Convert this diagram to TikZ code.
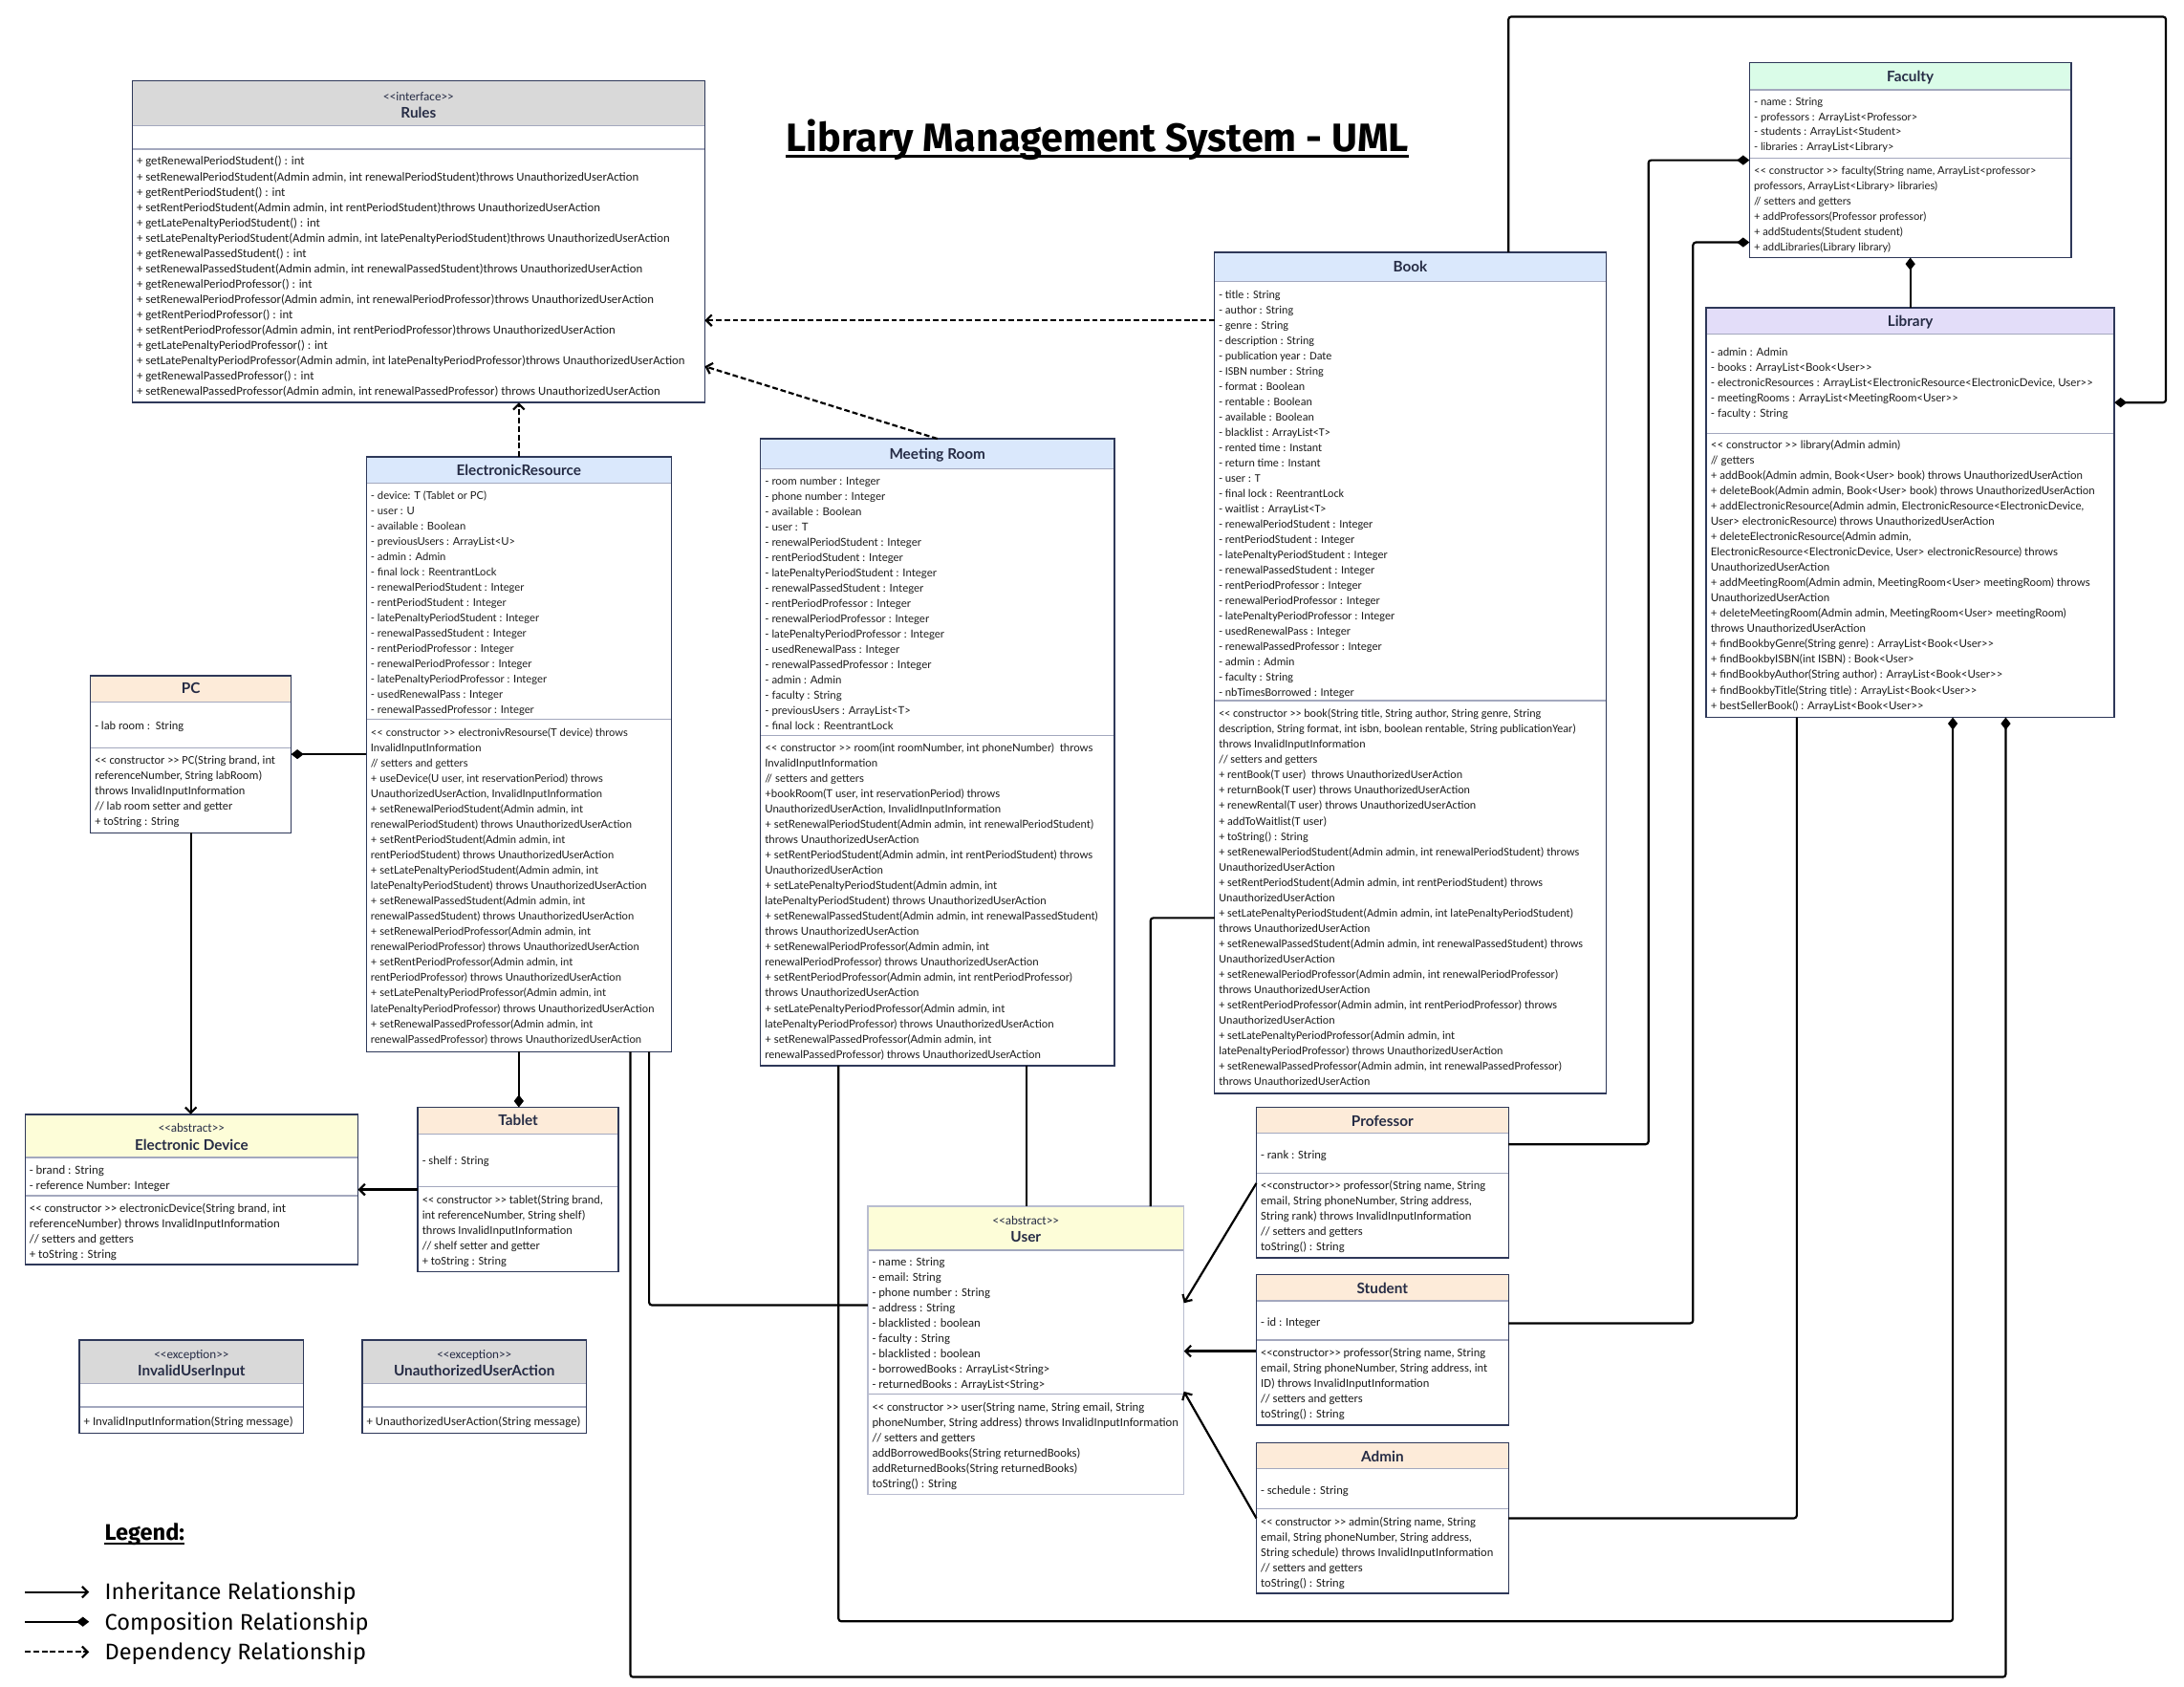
\documentclass[tikz,border=0pt]{standalone}
\usepackage{fontspec}
\usetikzlibrary{arrows.meta,calc}
\newfontfamily\carl{Carlito}
\newfontfamily\latof{Lato}
\newfontfamily\firaf{Fira Sans}
\newcommand{\dlt}{<\kern0pt<}
\newcommand{\dgt}{>\kern0pt>}
\newcommand{\fc}[1]{\carl\fontsize{#1}{11}\selectfont}
\newcommand{\fl}[1]{\latof\fontsize{#1}{11}\selectfont}
\newcommand{\fhead}{\latof\bfseries\fontsize{10.5}{12}\selectfont}
\newcommand{\fster}{\carl\fontsize{9}{11}\selectfont}
\definecolor{framec}{HTML}{2E3859}
\definecolor{divc}{HTML}{A3A8BE}
\definecolor{txtc}{HTML}{1C1C1C}
\definecolor{hdrc}{HTML}{262C45}
\definecolor{hgray}{HTML}{D9D9D9}
\definecolor{hblue}{HTML}{DAE8FC}
\definecolor{hgreen}{HTML}{DAFCE8}
\definecolor{hviolet}{HTML}{E3DDF9}
\definecolor{hpeach}{HTML}{FDEBD9}
\definecolor{hyellow}{HTML}{FDFDD8}
\definecolor{userframe}{HTML}{B9BDD0}
\tikzset{
  boxbase/.style={anchor=north west, inner sep=0pt, outer sep=0pt, fill=white, draw=none},
  divline/.style={draw=divc, line width=0.9pt},
  rowtext/.style={anchor=north west, inner sep=0pt, text=txtc},
  hdrtext/.style={inner sep=0pt, text=hdrc, text height=0.7em, text depth=0pt},
  conn/.style={draw=black, line width=1.5pt, rounded corners=2pt},
  inh/.style={conn, -{Straight Barb[length=4pt,width=8pt]}},
  comp/.style={conn, -{Diamond[length=9pt,width=7pt]}},
  dep/.style={conn, dash pattern=on 4pt off 2pt, -{Straight Barb[length=4pt,width=8pt]}},
}
% name, x, y, w, h, header height, header fill
\newcommand{\umlbox}[7]{%
  \node[boxbase, minimum width=#4pt, minimum height=#5pt] (#1) at (#2pt,-#3pt) {};
  \fill[#7] (#1.north west) rectangle ($(#1.north east)+(0pt,-#6pt)$);
  \draw[divline] ($(#1.north west)+(0pt,-#6pt)$) -- ($(#1.north east)+(0pt,-#6pt)$);
}
\newcommand{\umldiv}[2]{\draw[divline] ($(#1.north west)+(0pt,-#2pt)$) -- ($(#1.north east)+(0pt,-#2pt)$);}
\newcommand{\umlframe}[2][framec]{\draw[line width=1pt, draw=#1] (#2.north west) rectangle (#2.south east);}
% box, suffix, offset, font, rows
\newcommand{\umlrows}[5]{\node[rowtext, font=#4] (#1-#2) at ($(#1.north west)+(3pt,-#3pt)$) {\begin{tabular}{@{}l@{}}#5\end{tabular}};}
\newcommand{\umlhead}[5]{\node[hdrtext, font=#4] (#1-#2) at ($(#1.north)+(0pt,-#3pt)$) {#5};}
\begin{document}
\begin{tikzpicture}[x=1pt,y=1pt]
\fill[white] (0,0) rectangle (1568,-1211);
\useasboundingbox (0,0) rectangle (1568,-1211);

% Title
\node[anchor=base, inner sep=0pt, font=\firaf\bfseries\fontsize{28.4}{30}\selectfont] (title) at (788,-108.6) {Library Management System - UML};
\draw[line width=2pt] ($(title.base west)+(0,-3.5)$) -- ($(title.base east)+(0,-3.5)$);

% Rules
\umlbox{rules}{95}{58}{411}{231}{32}{hgray}
\umldiv{rules}{49}
\umlhead{rules}{st}{10.6}{\fster}{\dlt interface\dgt}
\umlhead{rules}{nm}{23.2}{\fhead}{Rules}
\umlrows{rules}{m}{52.8}{\fc{8.75}}{+ getRenewalPeriodStudent() : int\\
+ setRenewalPeriodStudent(Admin admin, int renewalPeriodStudent)throws UnauthorizedUserAction\\
+ getRentPeriodStudent() : int\\
+ setRentPeriodStudent(Admin admin, int rentPeriodStudent)throws UnauthorizedUserAction\\
+ getLatePenaltyPeriodStudent() : int\\
+ setLatePenaltyPeriodStudent(Admin admin, int latePenaltyPeriodStudent)throws UnauthorizedUserAction\\
+ getRenewalPassedStudent() : int\\
+ setRenewalPassedStudent(Admin admin, int renewalPassedStudent)throws UnauthorizedUserAction\\
+ getRenewalPeriodProfessor() : int\\
+ setRenewalPeriodProfessor(Admin admin, int renewalPeriodProfessor)throws UnauthorizedUserAction\\
+ getRentPeriodProfessor() : int\\
+ setRentPeriodProfessor(Admin admin, int rentPeriodProfessor)throws UnauthorizedUserAction\\
+ getLatePenaltyPeriodProfessor() : int\\
+ setLatePenaltyPeriodProfessor(Admin admin, int latePenaltyPeriodProfessor)throws UnauthorizedUserAction\\
+ getRenewalPassedProfessor() : int\\
+ setRenewalPassedProfessor(Admin admin, int renewalPassedProfessor) throws UnauthorizedUserAction}
\umlframe{rules}

% ElectronicResource
\umlbox{er}{263}{328}{219}{427}{19}{hblue}
\umldiv{er}{188.5}
\umlhead{er}{nm}{10}{\fhead}{ElectronicResource}
\umlrows{er}{a}{22.3}{\fl{7.7}}{- device: T (Tablet or PC)\\
- user : U\\
- available : Boolean\\
- previousUsers : ArrayList<U>\\
- admin : Admin\\
- final lock : ReentrantLock\\
- renewalPeriodStudent : Integer\\
- rentPeriodStudent : Integer\\
- latePenaltyPeriodStudent : Integer\\
- renewalPassedStudent : Integer\\
- rentPeriodProfessor : Integer\\
- renewalPeriodProfessor : Integer\\
- latePenaltyPeriodProfessor : Integer\\
- usedRenewalPass : Integer\\
- renewalPassedProfessor : Integer}
\umlrows{er}{m}{192.8}{\fl{7.7}}{\dlt{} constructor \dgt{} electronivResourse(T device) throws\\
InvalidInputInformation\\
// setters and getters\\
+ useDevice(U user, int reservationPeriod) throws\\
UnauthorizedUserAction, InvalidInputInformation\\
+ setRenewalPeriodStudent(Admin admin, int\\
renewalPeriodStudent) throws UnauthorizedUserAction\\
+ setRentPeriodStudent(Admin admin, int\\
rentPeriodStudent) throws UnauthorizedUserAction\\
+ setLatePenaltyPeriodStudent(Admin admin, int\\
latePenaltyPeriodStudent) throws UnauthorizedUserAction\\
+ setRenewalPassedStudent(Admin admin, int\\
renewalPassedStudent) throws UnauthorizedUserAction\\
+ setRenewalPeriodProfessor(Admin admin, int\\
renewalPeriodProfessor) throws UnauthorizedUserAction\\
+ setRentPeriodProfessor(Admin admin, int\\
rentPeriodProfessor) throws UnauthorizedUserAction\\
+ setLatePenaltyPeriodProfessor(Admin admin, int\\
latePenaltyPeriodProfessor) throws UnauthorizedUserAction\\
+ setRenewalPassedProfessor(Admin admin, int\\
renewalPassedProfessor) throws UnauthorizedUserAction}
\umlframe{er}

% Meeting Room
\umlbox{meet}{546}{315}{254}{450}{21.5}{hblue}
\umldiv{meet}{213}
\umlhead{meet}{nm}{11}{\fhead}{Meeting Room}
\umlrows{meet}{a}{25.3}{\fl{7.85}}{- room number : Integer\\
- phone number : Integer\\
- available : Boolean\\
- user : T\\
- renewalPeriodStudent : Integer\\
- rentPeriodStudent : Integer\\
- latePenaltyPeriodStudent : Integer\\
- renewalPassedStudent : Integer\\
- rentPeriodProfessor : Integer\\
- renewalPeriodProfessor : Integer\\
- latePenaltyPeriodProfessor : Integer\\
- usedRenewalPass : Integer\\
- renewalPassedProfessor : Integer\\
- admin : Admin\\
- faculty : String\\
- previousUsers : ArrayList<T>\\
- final lock : ReentrantLock}
\umlrows{meet}{m}{216.8}{\fl{7.85}}{\dlt{} constructor \dgt{} room(int roomNumber, int phoneNumber)\ \ throws\\
InvalidInputInformation\\
// setters and getters\\
+bookRoom(T user, int reservationPeriod) throws\\
UnauthorizedUserAction, InvalidInputInformation\\
+ setRenewalPeriodStudent(Admin admin, int renewalPeriodStudent)\\
throws UnauthorizedUserAction\\
+ setRentPeriodStudent(Admin admin, int rentPeriodStudent) throws\\
UnauthorizedUserAction\\
+ setLatePenaltyPeriodStudent(Admin admin, int\\
latePenaltyPeriodStudent) throws UnauthorizedUserAction\\
+ setRenewalPassedStudent(Admin admin, int renewalPassedStudent)\\
throws UnauthorizedUserAction\\
+ setRenewalPeriodProfessor(Admin admin, int\\
renewalPeriodProfessor) throws UnauthorizedUserAction\\
+ setRentPeriodProfessor(Admin admin, int rentPeriodProfessor)\\
throws UnauthorizedUserAction\\
+ setLatePenaltyPeriodProfessor(Admin admin, int\\
latePenaltyPeriodProfessor) throws UnauthorizedUserAction\\
+ setRenewalPassedProfessor(Admin admin, int\\
renewalPassedProfessor) throws UnauthorizedUserAction}
\umlframe{meet}

% Book
\umlbox{book}{872}{181}{281}{604}{21}{hblue}
\umldiv{book}{322}
\umlhead{book}{nm}{11}{\fhead}{Book}
\umlrows{book}{a}{25.3}{\fc{8.3}}{- title : String\\
- author : String\\
- genre : String\\
- description : String\\
- publication year : Date\\
- ISBN number : String\\
- format : Boolean\\
- rentable : Boolean\\
- available : Boolean\\
- blacklist : ArrayList<T>\\
- rented time : Instant\\
- return time : Instant\\
- user : T\\
- final lock : ReentrantLock\\
- waitlist : ArrayList<T>\\
- renewalPeriodStudent : Integer\\
- rentPeriodStudent : Integer\\
- latePenaltyPeriodStudent : Integer\\
- renewalPassedStudent : Integer\\
- rentPeriodProfessor : Integer\\
- renewalPeriodProfessor : Integer\\
- latePenaltyPeriodProfessor : Integer\\
- usedRenewalPass : Integer\\
- renewalPassedProfessor : Integer\\
- admin : Admin\\
- faculty : String\\
- nbTimesBorrowed : Integer}
\umlrows{book}{m}{326.3}{\fc{8.3}}{\dlt{} constructor \dgt{} book(String title, String author, String genre, String\\
description, String format, int isbn, boolean rentable, String publicationYear)\\
throws InvalidInputInformation\\
// setters and getters\\
+ rentBook(T user)\ \ throws UnauthorizedUserAction\\
+ returnBook(T user) throws UnauthorizedUserAction\\
+ renewRental(T user) throws UnauthorizedUserAction\\
+ addToWaitlist(T user)\\
+ toString() : String\\
+ setRenewalPeriodStudent(Admin admin, int renewalPeriodStudent) throws\\
UnauthorizedUserAction\\
+ setRentPeriodStudent(Admin admin, int rentPeriodStudent) throws\\
UnauthorizedUserAction\\
+ setLatePenaltyPeriodStudent(Admin admin, int latePenaltyPeriodStudent)\\
throws UnauthorizedUserAction\\
+ setRenewalPassedStudent(Admin admin, int renewalPassedStudent) throws\\
UnauthorizedUserAction\\
+ setRenewalPeriodProfessor(Admin admin, int renewalPeriodProfessor)\\
throws UnauthorizedUserAction\\
+ setRentPeriodProfessor(Admin admin, int rentPeriodProfessor) throws\\
UnauthorizedUserAction\\
+ setLatePenaltyPeriodProfessor(Admin admin, int\\
latePenaltyPeriodProfessor) throws UnauthorizedUserAction\\
+ setRenewalPassedProfessor(Admin admin, int renewalPassedProfessor)\\
throws UnauthorizedUserAction}
\umlframe{book}

% Faculty
\umlbox{faculty}{1256}{45}{231}{140}{19.5}{hgreen}
\umldiv{faculty}{68.5}
\umlhead{faculty}{nm}{10}{\fhead}{Faculty}
\umlrows{faculty}{a}{23.3}{\latof\fontsize{7.7}{10.7}\selectfont}{- name : String\\
- professors : ArrayList<Professor>\\
- students : ArrayList<Student>\\
- libraries : ArrayList<Library>}
\umlrows{faculty}{m}{72.3}{\fl{7.7}}{\dlt{} constructor \dgt{} faculty(String name, ArrayList<professor>\\
professors, ArrayList<Library> libraries)\\
// setters and getters\\
+ addProfessors(Professor professor)\\
+ addStudents(Student student)\\
+ addLibraries(Library library)}
\umlframe{faculty}

% Library
\umlbox{library}{1225}{221}{293}{294}{19}{hviolet}
\umldiv{library}{90}
\umlhead{library}{nm}{10}{\fhead}{Library}
\umlrows{library}{a}{26.8}{\fl{7.9}}{- admin : Admin\\
- books : ArrayList<Book<User\dgt\\
- electronicResources : ArrayList<ElectronicResource<ElectronicDevice, User\dgt\\
- meetingRooms : ArrayList<MeetingRoom<User\dgt\\
- faculty : String}
\umlrows{library}{m}{93.3}{\fl{7.9}}{\dlt{} constructor \dgt{} library(Admin admin)\\
// getters\\
+ addBook(Admin admin, Book<User> book) throws UnauthorizedUserAction\\
+ deleteBook(Admin admin, Book<User> book) throws UnauthorizedUserAction\\
+ addElectronicResource(Admin admin, ElectronicResource<ElectronicDevice,\\
User> electronicResource) throws UnauthorizedUserAction\\
+ deleteElectronicResource(Admin admin,\\
ElectronicResource<ElectronicDevice, User> electronicResource) throws\\
UnauthorizedUserAction\\
+ addMeetingRoom(Admin admin, MeetingRoom<User> meetingRoom) throws\\
UnauthorizedUserAction\\
+ deleteMeetingRoom(Admin admin, MeetingRoom<User> meetingRoom)\\
throws UnauthorizedUserAction\\
+ findBookbyGenre(String genre) : ArrayList<Book<User\dgt\\
+ findBookbyISBN(int ISBN) : Book<User>\\
+ findBookbyAuthor(String author) : ArrayList<Book<User\dgt\\
+ findBookbyTitle(String title) : ArrayList<Book<User\dgt\\
+ bestSellerBook() : ArrayList<Book<User\dgt}
\umlframe{library}

% PC
\umlbox{pc}{65}{485}{144}{113}{19}{hpeach}
\umldiv{pc}{52}
\umlhead{pc}{nm}{9.5}{\fhead}{PC}
\umlrows{pc}{a}{31.3}{\fc{8.5}}{- lab room :\ \ String}
\umlrows{pc}{m}{55.8}{\fc{8.5}}{\dlt{} constructor \dgt{} PC(String brand, int\\
referenceNumber, String labRoom)\\
throws InvalidInputInformation\\
// lab room setter and getter\\
+ toString : String}
\umlframe{pc}

% Electronic Device
\umlbox{edev}{18}{800}{239}{108}{31}{hyellow}
\umldiv{edev}{58.5}
\umlhead{edev}{st}{9.5}{\fster}{\dlt abstract\dgt}
\umlhead{edev}{nm}{22}{\fhead}{Electronic Device}
\umlrows{edev}{a}{35.3}{\fc{8.8}}{- brand : String\\
- reference Number: Integer}
\umlrows{edev}{m}{62.8}{\fc{8.8}}{\dlt{} constructor \dgt{} electronicDevice(String brand, int\\
referenceNumber) throws InvalidInputInformation\\
// setters and getters\\
+ toString : String}
\umlframe{edev}

% Tablet
\umlbox{tablet}{300}{795}{144}{118}{19}{hpeach}
\umldiv{tablet}{57}
\umlhead{tablet}{nm}{9.5}{\fhead}{Tablet}
\umlrows{tablet}{a}{33.3}{\fc{8.5}}{- shelf : String}
\umlrows{tablet}{m}{61.3}{\fc{8.5}}{\dlt{} constructor \dgt{} tablet(String brand,\\
int referenceNumber, String shelf)\\
throws InvalidInputInformation\\
// shelf setter and getter\\
+ toString : String}
\umlframe{tablet}

% User
\umlbox{user}{623}{866}{227}{207}{31.5}{hyellow}
\umldiv{user}{135}
\umlhead{user}{st}{10}{\fster}{\dlt abstract\dgt}
\umlhead{user}{nm}{22}{\fhead}{User}
\umlrows{user}{a}{34.8}{\fc{8.7}}{- name : String\\
- email: String\\
- phone number : String\\
- address : String\\
- blacklisted : boolean\\
- faculty : String\\
- blacklisted : boolean\\
- borrowedBooks : ArrayList<String>\\
- returnedBooks : ArrayList<String>}
\umlrows{user}{m}{139.3}{\fc{8.7}}{\dlt{} constructor \dgt{} user(String name, String email, String\\
phoneNumber, String address) throws InvalidInputInformation\\
// setters and getters\\
addBorrowedBooks(String returnedBooks)\\
addReturnedBooks(String returnedBooks)\\
toString() : String}
\umlframe[userframe]{user}

% Professor
\umlbox{prof}{902}{795}{181}{108}{18.5}{hpeach}
\umldiv{prof}{47.5}
\umlhead{prof}{nm}{10}{\fhead}{Professor}
\umlrows{prof}{a}{28.8}{\fc{8.6}}{- rank : String}
\umlrows{prof}{m}{51.3}{\fc{8.6}}{\dlt constructor\dgt{} professor(String name, String\\
email, String phoneNumber, String address,\\
String rank) throws InvalidInputInformation\\
// setters and getters\\
toString() : String}
\umlframe{prof}

% Student
\umlbox{student}{902}{915}{181}{108}{19}{hpeach}
\umldiv{student}{47}
\umlhead{student}{nm}{10}{\fhead}{Student}
\umlrows{student}{a}{29.3}{\fc{8.6}}{- id : Integer}
\umlrows{student}{m}{51.3}{\fc{8.6}}{\dlt constructor\dgt{} professor(String name, String\\
email, String phoneNumber, String address, int\\
ID) throws InvalidInputInformation\\
// setters and getters\\
toString() : String}
\umlframe{student}

% Admin
\umlbox{admin}{902}{1036}{181}{108}{18.5}{hpeach}
\umldiv{admin}{47}
\umlhead{admin}{nm}{10}{\fhead}{Admin}
\umlrows{admin}{a}{28.8}{\fc{8.6}}{- schedule : String}
\umlrows{admin}{m}{51.3}{\fc{8.6}}{\dlt{} constructor \dgt{} admin(String name, String\\
email, String phoneNumber, String address,\\
String schedule) throws InvalidInputInformation\\
// setters and getters\\
toString() : String}
\umlframe{admin}

% Exceptions
\umlbox{exinv}{57}{962}{161}{67}{31.5}{hgray}
\umldiv{exinv}{48}
\umlhead{exinv}{st}{10}{\fster}{\dlt exception\dgt}
\umlhead{exinv}{nm}{22.5}{\fhead}{InvalidUserInput}
\umlrows{exinv}{m}{53.8}{\fc{8.8}}{+ InvalidInputInformation(String message)}
\umlframe{exinv}

\umlbox{exuna}{260}{962}{161}{67}{31.5}{hgray}
\umldiv{exuna}{48}
\umlhead{exuna}{st}{10}{\fster}{\dlt exception\dgt}
\umlhead{exuna}{nm}{22.5}{\fhead}{UnauthorizedUserAction}
\umlrows{exuna}{m}{53.8}{\fc{8.8}}{+ UnauthorizedUserAction(String message)}
\umlframe{exuna}

% Connectors
\draw[dep] ($(book.north west)+(0,-49)$) -- ($(rules.north east)+(0,-172)$);
\draw[dep] (meet.north) -- ($(rules.north east)+(0,-205)$);
\draw[dep] (er.north) -- (er.north |- rules.south);
\draw[comp] ($(er.north west)+(0,-213.5)$) -- ($(pc.north east)+(0,-56.5)$);
\draw[inh] (pc.south) -- (pc.south |- edev.north);
\draw[comp] (er.south) -- (er.south |- tablet.north);
\draw[inh] ($(tablet.north west)+(0,-59)$) -- ($(edev.north east)+(0,-54)$);
\draw[comp] ($(book.north west)+(211,0)$) -- ++(0,169) -- ++(472,0) |- ($(library.north east)+(0,-68)$);
\draw[comp] ($(prof.north east)+(0,-26.5)$) -- ++(100.5,0) |- ($(faculty.north west)+(0,-70)$);
\draw[comp] ($(student.north east)+(0,-35)$) -- ++(132.5,0) |- ($(faculty.north west)+(0,-129)$);
\draw[comp] (library.north) -- (faculty.south);
\draw[conn] ($(admin.north east)+(0,-54)$) -| ($(library.south west)+(65,0)$);
\draw[comp] ($(meet.south west)+(56,0)$) -- ++(0,-399) -| ($(library.south west)+(177,0)$);
\draw[comp] ($(er.south west)+(189.5,0)$) -- ++(0,-449) -| ($(library.south west)+(215,0)$);
\draw[conn] ($(er.south west)+(203,0)$) |- ($(user.north west)+(0,-71)$);
\draw[conn] ($(meet.south west)+(191,0)$) -- ($(user.north west)+(114,0)$);
\draw[conn] ($(book.north west)+(0,-478)$) -| ($(user.north west)+(203,0)$);
\draw[inh] ($(prof.north west)+(0,-54.5)$) -- ($(user.north east)+(0,-69.5)$);
\draw[inh] ($(student.north west)+(0,-55)$) -- ($(user.north east)+(0,-104)$);
\draw[inh] ($(admin.north west)+(0,-54)$) -- ($(user.north east)+(0,-133)$);

% Legend
\node[anchor=base west, inner sep=0pt, font=\firaf\bfseries\fontsize{16.2}{18}\selectfont] (legend) at (75,-1105.7) {Legend:};
\draw[line width=1.3pt] ($(legend.base west)+(0,-2.8)$) -- ($(legend.base east)+(0,-2.8)$);
\coordinate (lgA1) at (18,-1143);
\coordinate (lgA2) at (64,-1143);
\coordinate (lgB1) at (18,-1164.3);
\coordinate (lgB2) at (64,-1164.3);
\coordinate (lgC1) at (18,-1186);
\coordinate (lgC2) at (64,-1186);
\draw[inh] (lgA1) -- (lgA2);
\draw[comp] (lgB1) -- (lgB2);
\draw[dep] (lgC1) -- (lgC2);
\node[anchor=base west, inner sep=0pt, font=\firaf\fontsize{16.2}{18}\selectfont] (lgT1) at (75,-1148.7) {Inheritance Relationship};
\node[anchor=base west, inner sep=0pt, font=\firaf\fontsize{16.2}{18}\selectfont] (lgT2) at (75,-1170) {Composition Relationship};
\node[anchor=base west, inner sep=0pt, font=\firaf\fontsize{16.2}{18}\selectfont] (lgT3) at (75,-1191.7) {Dependency Relationship};
\end{tikzpicture}
\end{document}
